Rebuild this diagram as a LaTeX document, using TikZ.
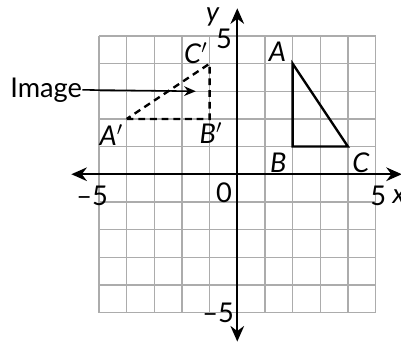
\documentclass[tikz,border=0pt]{standalone}
\usepackage{fontspec}
\setmainfont{Lato}
\usetikzlibrary{arrows.meta}

\begin{document}
\begin{tikzpicture}[x=0.5cm, y=0.5cm, font=\fontsize{14}{16}\selectfont,
    axis/.style={{Stealth[length=8pt,width=7pt]}-{Stealth[length=8pt,width=7pt]}, line width=1.2pt},
    gridline/.style={gray!65, line width=0.7pt},
    tri/.style={line width=1.2pt, line join=miter},
    imagetri/.style={line width=1.2pt, dash pattern=on 3.5pt off 2.5pt}]
        \useasboundingbox (-8.58,-6.10) rectangle (5.92,6.30);
        \draw[gridline, step=0.5cm] (-5,-5) grid (5,5);
        % axes
        \coordinate (xl) at (-6,0);
        \coordinate (xr) at (5.95,0);
        \coordinate (yb) at (0,-6.05);
        \coordinate (yt) at (0,6);
        \draw[axis] (xl) -- (xr);
        \draw[axis] (yb) -- (yt);
        \node (xlab) at (5.85,-0.8) {\textit{x}};
        \node (ylab) at (-0.88,5.68) {\textit{y}};
        \node (xmin) at (-5.25,-0.8) {\textendash5};
        \node (xmax) at (5.1,-0.8) {5};
        \node (ymax) at (-0.48,4.88) {5};
        \node (ymin) at (-0.69,-5.03) {\textendash5};
        \node (zero) at (-0.48,-0.66) {0};
        % triangle ABC
        \coordinate (A) at (2,4);
        \coordinate (B) at (2,1);
        \coordinate (C) at (4,1);
        \draw[tri] (A) -- (B) -- (C) -- cycle;
        \node (Alab) at (1.45,4.42) {\textit{A}};
        \node (Blab) at (1.48,0.42) {\textit{B}};
        \node (Clab) at (4.47,0.42) {\textit{C}};
        % image A'B'C'
        \coordinate (A1) at (-4,2);
        \coordinate (B1) at (-1,2);
        \coordinate (C1) at (-1,4);
        \draw[imagetri] (A1) -- (B1) -- (C1) -- cycle;
        \node (A1lab) at (-4.55,1.42) {\textit{A}$'$};
        \node (B1lab) at (-0.95,1.48) {\textit{B}$'$};
        \node (C1lab) at (-1.5,4.38) {\textit{C}$'$};
        % label with arrow
        \node[anchor=east, inner sep=0pt] (img) at (-5.6,3.05) {Image};
        \coordinate (imgend) at (-1.5,3.0);
        \draw[-{Stealth[length=6pt,width=5pt]}, line width=0.8pt] (img.east) -- (imgend);
\end{tikzpicture}
\end{document}
